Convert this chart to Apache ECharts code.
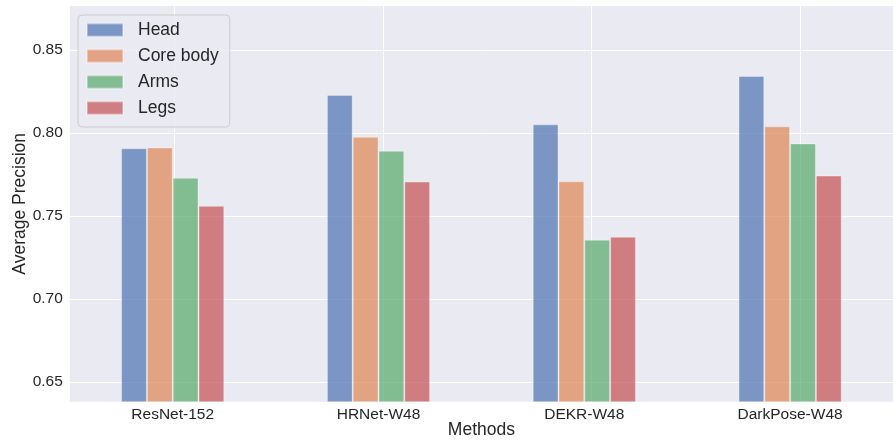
<!DOCTYPE html>
<html>
<head>
<meta charset="utf-8">
<script src="https://cdn.jsdelivr.net/npm/echarts@6/dist/echarts.min.js"></script>
<style>html,body{margin:0;padding:0;background:#fff}#c{width:893px;height:444px}</style>
</head>
<body>
<div id="c"></div>
<script>
const categories = ['ResNet-152', 'HRNet-W48', 'DEKR-W48', 'DarkPose-W48'];
const seriesNames = ['Head', 'Core body', 'Arms', 'Legs'];
const head = [0.7914, 0.8233, 0.8057, 0.8346];
const coreBody = [0.7919, 0.7983, 0.7717, 0.8045];
const arms = [0.7738, 0.7899, 0.7368, 0.7943];
const legs = [0.7570, 0.7715, 0.7386, 0.7751];
const yTicks = [0.65, 0.70, 0.75, 0.80, 0.85];

const colors = ['rgba(76,114,176,0.7)', 'rgba(221,132,82,0.7)', 'rgba(85,168,104,0.7)', 'rgba(196,78,82,0.7)'];
const FONT = '"Liberation Sans", Arial, sans-serif';
const TXT = '#262626';
const allData = [head, coreBody, arms, legs];

const chart = echarts.init(document.getElementById('c'), null, {renderer: 'canvas'});
const option = {
  animation: false,
  textStyle: {fontFamily: FONT},
  grid: [
    {left: 69.8, right: -10.4, top: 6, bottom: 42.3, show: true, backgroundColor: '#EAEAF2', borderWidth: 0},
    {left: 69.8, right: 0, top: 50, bottom: 59.7},
    {left: 174.1, right: 92.9, top: 6, bottom: 42.3}
  ],
  xAxis: [
    {type: 'category', gridIndex: 0, data: categories,
      axisLine: {show: false}, axisTick: {show: false}, splitLine: {show: false},
      axisLabel: {color: TXT, fontSize: 15.5, fontFamily: FONT, margin: 5}},
    {type: 'value', gridIndex: 1, min: 0, max: 1, show: true,
      axisLine: {show: false}, axisTick: {show: false}, axisLabel: {show: false}, splitLine: {show: false},
      name: 'Methods', nameLocation: 'middle', nameGap: 39,
      nameTextStyle: {color: TXT, fontSize: 17.5, fontFamily: FONT}},
    {type: 'value', gridIndex: 2, min: 0, max: 3, interval: 1,
      axisLine: {show: false}, axisTick: {show: false}, axisLabel: {show: false},
      splitLine: {show: true, lineStyle: {color: '#ffffff', width: 1}}}
  ],
  yAxis: [
    {type: 'value', gridIndex: 0, min: 0.64, max: 0.8764,
      axisLine: {show: false}, axisTick: {show: false}, axisLabel: {show: false}, splitLine: {show: false},
      name: 'Average Precision', nameLocation: 'middle', nameGap: 41,
      nameTextStyle: {color: TXT, fontSize: 17.5, fontFamily: FONT}},
    {type: 'value', gridIndex: 1, min: yTicks[0], max: yTicks[yTicks.length - 1], interval: 0.05,
      axisLine: {show: false}, axisTick: {show: false},
      axisLabel: {color: TXT, fontSize: 15.5, fontFamily: FONT, margin: 7, formatter: v => v.toFixed(2)},
      splitLine: {show: true, lineStyle: {color: '#ffffff', width: 1}}},
    {type: 'value', gridIndex: 2, min: 0, max: 1, show: false}
  ],
  legend: {
    orient: 'vertical', left: 78, top: 15,
    padding: [6, 11, 10, 8],
    itemWidth: 36, itemHeight: 13, itemGap: 8, icon: 'rect',
    backgroundColor: 'rgba(234,234,242,0.8)', borderColor: '#cccccc', borderWidth: 1, borderRadius: 4,
    textStyle: {color: TXT, fontSize: 17.5, fontFamily: FONT, lineHeight: 16, padding: [0, 0, 0, 10]},
    data: seriesNames
  },
  series: seriesNames.map((n, i) => ({
    name: n, type: 'bar', xAxisIndex: 0, yAxisIndex: 0,
    data: allData[i], barWidth: 25.8, barGap: '0%',
    itemStyle: {color: colors[i], borderColor: 'rgba(255,255,255,0.35)', borderWidth: 1}
  }))
};
chart.setOption(option);
</script>
</body>
</html>
